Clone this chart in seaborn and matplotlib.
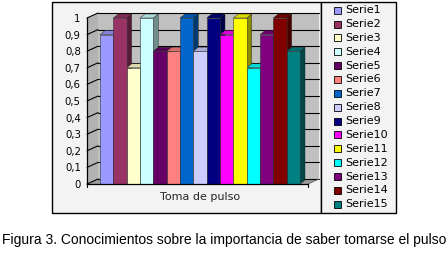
import numpy as np
import pandas as pd
import matplotlib
matplotlib.use("Agg")
import matplotlib.pyplot as plt
import matplotlib.patches as mpatches
import matplotlib.transforms as mtransforms
from matplotlib.lines import Line2D
import seaborn as sns

# ---- data ----
categoria = ["Toma de pulso"]
series = ["Serie1", "Serie2", "Serie3", "Serie4", "Serie5", "Serie6", "Serie7", "Serie8",
          "Serie9", "Serie10", "Serie11", "Serie12", "Serie13", "Serie14", "Serie15"]
valores = [0.9, 1.0, 0.7, 1.0, 0.8, 0.8, 1.0, 0.8, 1.0, 0.9, 1.0, 0.7, 0.9, 1.0, 0.8]
colores = ["#9999FF", "#993366", "#FFFFCC", "#CCFFFF", "#660066", "#FF8080", "#0066CC",
           "#CCCCFF", "#000080", "#FF00FF", "#FFFF00", "#00FFFF", "#800080", "#800000",
           "#008080"]
yticks = [0, 0.1, 0.2, 0.3, 0.4, 0.5, 0.6, 0.7, 0.8, 0.9, 1.0]
ytick_labels = ["0", "0,1", "0,2", "0,3", "0,4", "0,5", "0,6", "0,7", "0,8", "0,9", "1"]
caption = "Figura 3. Conocimientos sobre la importancia de saber tomarse el pulso"

df = pd.DataFrame({"cat": categoria * len(series), "serie": series, "valor": valores})

sns.set_style("white")
plt.rcParams["font.family"] = ["DejaVu Sans"]

W, H = 448, 254
DPI = 100
fig = plt.figure(figsize=(W / DPI, H / DPI), dpi=DPI)
fig.patch.set_facecolor("white")

def fx(px):
    return px / W

def fy(py):
    return 1 - py / H

# chart area box and legend box (figure level, behind axes)
fig.add_artist(mpatches.Rectangle((fx(51.5), fy(212.5)), fx(269), 211 / H,
                                  transform=fig.transFigure, facecolor="#F3F3F3",
                                  edgecolor="black", linewidth=1.0, zorder=-10))
fig.add_artist(mpatches.Rectangle((fx(320.5), fy(212.5)), fx(75), 211 / H,
                                  transform=fig.transFigure, facecolor="#F3F3F3",
                                  edgecolor="black", linewidth=1.0, zorder=-9))

ax_l, ax_r, ax_t, ax_b = 87, 308, 18, 184
ax = fig.add_axes([fx(ax_l), fy(ax_b), fx(ax_r - ax_l), (ax_b - ax_t) / H])
ax.patch.set_visible(False)

sns.barplot(data=df, x="cat", y="valor", hue="serie", palette=colores, hue_order=series,
            saturation=1, width=0.8, dodge=True, legend=False, ax=ax,
            edgecolor="#303030", linewidth=0.4, zorder=3)

px_per_unit = 200 / 0.8
ax.set_xlim(-0.4 - 13 / px_per_unit, 0.4 + 8 / px_per_unit)
ax.set_ylim(0, 1)
ax.set_yticks(yticks)
ax.set_yticklabels(ytick_labels, fontsize=7.3)
ax.tick_params(axis="y", length=3, width=0.8, direction="out", pad=1.5, colors="black")
ax.tick_params(axis="x", length=0, pad=6, labelsize=8)
ax.set_xlabel("")
ax.set_ylabel("")
for s in ["top", "right"]:
    ax.spines[s].set_visible(False)
for s in ["left", "bottom"]:
    ax.spines[s].set_color("black")
    ax.spines[s].set_linewidth(0.9)
    ax.spines[s].set_zorder(4)

fig.canvas.draw()
ident = mtransforms.IdentityTransform()
td = ax.transData

DX, DY = 11, 5
BDX, BDY = 5, 4
xl, xr = ax.get_xlim()
(L, Y0) = td.transform((xl, 0))
(R, Y1) = td.transform((xr, 1))

def poly(pts, fc, z, ec="none", lw=0):
    p = mpatches.Polygon(pts, closed=True, facecolor=fc, edgecolor=ec, linewidth=lw,
                         transform=ident, clip_on=False, zorder=z)
    ax.add_patch(p)

# back wall, side wall, floor
poly([(L + DX, Y0 + DY), (R + DX, Y0 + DY), (R + DX, Y1 + DY), (L + DX, Y1 + DY)], "#C0C0C0", 0.1)
poly([(L, Y0), (L + DX, Y0 + DY), (L + DX, Y1 + DY), (L, Y1)], "#B2B2B2", 0.15)
poly([(L, Y0), (R, Y0), (R + DX, Y0 + DY), (L + DX, Y0 + DY)], "#9C9C9C", 0.2)

for v in yticks:
    yv = td.transform((0, v))[1]
    ax.add_line(Line2D([L + DX, R + DX], [yv + DY, yv + DY], color="black", lw=0.8,
                       transform=ident, clip_on=False, zorder=0.3))
    ax.add_line(Line2D([L, L + DX], [yv, yv + DY], color="black", lw=0.8,
                       transform=ident, clip_on=False, zorder=0.3))
ax.add_line(Line2D([R, R + DX], [Y0, Y0 + DY], color="#606060", lw=0.6,
                   transform=ident, clip_on=False, zorder=0.3))
ax.add_line(Line2D([R, R], [Y0, Y0 - 3], color="black", lw=0.8,
                   transform=ident, clip_on=False, zorder=0.3))
ax.add_line(Line2D([L, L], [Y0, Y0 - 3], color="black", lw=0.8,
                   transform=ident, clip_on=False, zorder=0.3))

def shade(c, f):
    r, g, b = matplotlib.colors.to_rgb(c)
    return (r * f, g * f, b * f)

for cont, col in zip(ax.containers, colores):
    for bar in cont:
        x0, y0 = bar.get_x(), bar.get_y()
        x1, y1 = x0 + bar.get_width(), y0 + bar.get_height()
        (a, b0) = td.transform((x0, y0))
        (c, d) = td.transform((x1, y1))
        poly([(c, b0), (c + BDX, b0 + BDY), (c + BDX, d + BDY), (c, d)], shade(col, 0.55), 1,
             ec="#202020", lw=0.3)
        poly([(a, d), (c, d), (c + BDX, d + BDY), (a + BDX, d + BDY)], shade(col, 0.85), 1,
             ec="#202020", lw=0.3)

# legend (manual, rows laid out in the legend box)
row0, pitch = 10.2, 13.86
for i, (s, c) in enumerate(zip(series, colores)):
    yc = row0 + i * pitch
    fig.add_artist(mpatches.Rectangle((fx(333.5), fy(yc + 3.5)), fx(7), 7 / H,
                                      transform=fig.transFigure, facecolor=c,
                                      edgecolor="black", linewidth=0.6, zorder=2))
    fig.text(fx(345), fy(yc), s, ha="left", va="center", fontsize=8, color="black")

fig.text(0.5, fy(240), caption, ha="center", va="center", fontsize=10, color="black",
         family=["Liberation Sans", "DejaVu Sans"])

fig.savefig("out.png", dpi=DPI)
